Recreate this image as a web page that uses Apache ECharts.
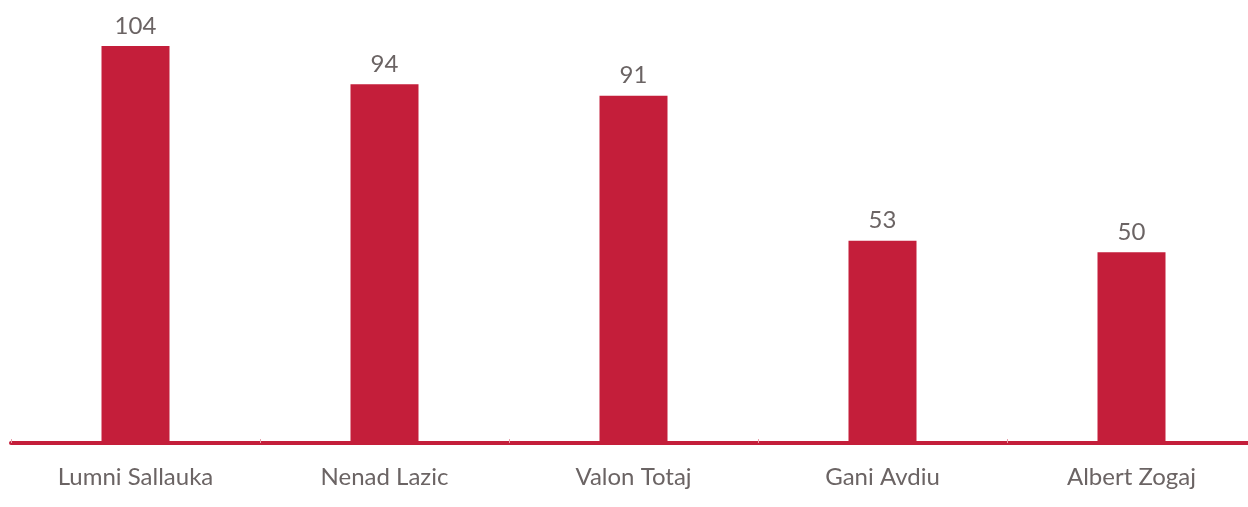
<!DOCTYPE html>
<html><head><meta charset="utf-8">
<script src="https://cdn.jsdelivr.net/npm/echarts@6/dist/echarts.min.js"></script>
<style>html,body{margin:0;padding:0;background:#fff}#c{width:1248px;height:507px}</style>
</head><body><div id="c"></div>
<script>
const categories = ['Lumni Sallauka', 'Nenad Lazic', 'Valon Totaj', 'Gani Avdiu', 'Albert Zogaj'];
const values = [104, 94, 91, 53, 50];
const chart = echarts.init(document.getElementById('c'), null, {renderer: 'canvas'});
chart.setOption({
  animation: false,
  grid: {left: 11, width: 1245, top: 46, bottom: 64, containLabel: false, outerBoundsMode: 'none'},
  xAxis: {
    type: 'category', data: categories,
    axisLine: {lineStyle: {color: '#c41e3a', width: 4}},
    axisTick: {show: true, inside: true, length: 4, lineStyle: {color: '#e8a0ab', width: 1}},
    axisLabel: {color: '#6b6464', fontFamily: 'Lato', fontSize: 24, margin: 22}
  },
  yAxis: {type: 'value', min: 0, max: 104, show: false, splitLine: {show: false}},
  series: [{
    type: 'bar', data: values, barWidth: 68,
    itemStyle: {color: '#c41e3a'},
    label: {show: true, position: 'top', distance: 8, color: '#6b6464', fontFamily: 'Lato', fontSize: 24}
  }]
});
</script></body></html>
